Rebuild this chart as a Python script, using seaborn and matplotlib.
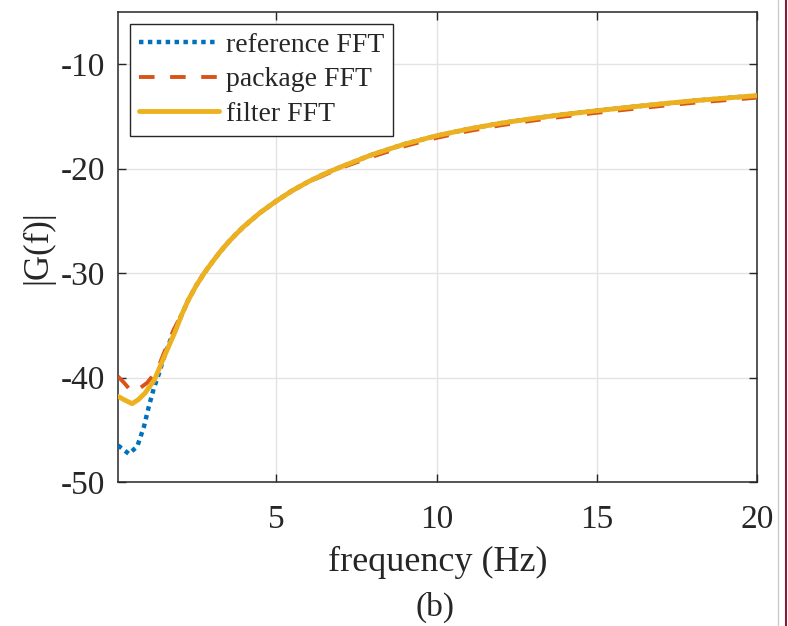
import matplotlib
matplotlib.use("Agg")
import matplotlib.pyplot as plt
from matplotlib.lines import Line2D
import numpy as np
import pandas as pd
import seaborn as sns

# ---- data ----
series_names = ["reference FFT", "package FFT", "filter FFT"]

# shared high-frequency part (all three curves overlap here)
f_common = [2.06, 2.25, 2.5, 2.75, 3.0, 3.25, 3.5, 3.75, 4.0, 4.5, 5.0, 5.5, 6.0, 6.5, 7.0,
            8.0, 9.0, 10.0, 11.0, 12.0, 13.0, 14.0, 15.0, 16.0, 17.0, 18.0, 19.0, 20.0]
g_filter_hi = [-33.9, -32.6, -31.2, -30.0, -28.95, -27.95, -27.05, -26.25, -25.5, -24.2,
               -23.1, -22.1, -21.25, -20.5, -19.85, -18.65, -17.65, -16.85, -16.2, -15.65,
               -15.2, -14.8, -14.45, -14.12, -13.8, -13.5, -13.25, -13.0]
g_package_hi = [-33.9, -32.6, -31.2, -30.0, -28.95, -27.95, -27.05, -26.25, -25.5, -24.2,
                -23.1, -22.1, -21.3, -20.6, -19.95, -18.85, -17.85, -17.05, -16.4, -15.85,
                -15.4, -15.0, -14.65, -14.32, -14.0, -13.7, -13.45, -13.2]

# low-frequency parts
f_ref_lo = [0.06, 0.4, 0.66, 0.87, 1.02, 1.18, 1.34, 1.53, 1.8]
g_ref_lo = [-46.5, -47.3, -46.6, -44.7, -42.8, -41.0, -39.6, -37.7, -35.6]
f_pkg_lo = [0.06, 0.25, 0.5, 0.75, 0.97, 1.28, 1.5, 1.8]
g_pkg_lo = [-39.9, -40.5, -41.4, -41.0, -40.5, -39.3, -37.6, -35.4]
f_flt_lo = [0.06, 0.3, 0.5, 0.7, 0.9, 1.2, 1.5, 1.83]
g_flt_lo = [-41.8, -42.2, -42.5, -42.1, -41.5, -40.2, -38.0, -35.7]

x_ticks = [5, 10, 15, 20]
y_ticks = [-50, -40, -30, -20, -10]

# ---- build long table ----
rows = []
for f, g in zip(f_ref_lo + f_common, g_ref_lo + g_filter_hi):
    rows.append((series_names[0], f, g))
for f, g in zip(f_pkg_lo + f_common, g_pkg_lo + g_package_hi):
    rows.append((series_names[1], f, g))
for f, g in zip(f_flt_lo + f_common, g_flt_lo + g_filter_hi):
    rows.append((series_names[2], f, g))
df = pd.DataFrame(rows, columns=["series", "freq", "G"])

sns.set_theme(style="whitegrid")
plt.rcParams["font.family"] = ["Liberation Serif", "DejaVu Serif"]

fig = plt.figure(figsize=(7.88, 6.26), dpi=100)
ax = fig.add_axes([118 / 788, 1 - 482 / 626, (757 - 118) / 788, (482 - 12) / 626])

colors = {"reference FFT": "#0072BD", "package FFT": "#D95319", "filter FFT": "#EDB120"}
styles = {"reference FFT": dict(lw=3.2, dashes=(1.0, 1.0)),
          "package FFT": dict(lw=2.8, dashes=(4.0, 4.0)),
          "filter FFT": dict(lw=3.5, dashes=None)}

handles = []
for name in series_names:
    sub = df[df["series"] == name]
    sns.lineplot(data=sub, x="freq", y="G", ax=ax, color=colors[name],
                 linewidth=styles[name]["lw"], sort=False, estimator=None,
                 legend=False, zorder=3 + series_names.index(name))
    line = ax.lines[-1]
    line.set_solid_joinstyle("round")
    if styles[name]["dashes"] is not None:
        line.set_dashes(styles[name]["dashes"])
        line.set_dash_capstyle("butt")
    h = Line2D([], [], color=colors[name], lw=styles[name]["lw"])
    if styles[name]["dashes"] is not None:
        h.set_dashes(styles[name]["dashes"])
        h.set_dash_capstyle("butt")
    handles.append(h)

ax.set_xlim(0.06, 20)
ax.set_ylim(-50, -5)
ax.set_xticks(x_ticks)
ax.set_yticks(y_ticks)
ax.set_xticklabels([str(t) for t in x_ticks])
ax.set_yticklabels([str(t) for t in y_ticks])

ax.set_facecolor("white")
ax.grid(True, color="#E3E3E3", linewidth=1.0)
for s in ax.spines.values():
    s.set_visible(True)
    s.set_color("#262626")
    s.set_linewidth(1.1)
ax.tick_params(axis="both", direction="in", length=6, width=1.0, color="#262626",
               labelsize=24, labelcolor="#262626", top=True, right=True,
               bottom=True, left=True)
ax.tick_params(axis="x", pad=16)
ax.tick_params(axis="y", pad=9)

ax.set_xlabel("frequency (Hz)", fontsize=26, color="#262626", labelpad=8)
ax.set_ylabel("|G(f)|", fontsize=25, color="#262626", labelpad=5)

leg = ax.legend(handles, series_names, loc="upper left", fontsize=20,
                frameon=True, fancybox=False, edgecolor="#262626",
                framealpha=1, handlelength=2.9, handletextpad=0.25,
                labelspacing=0.32, borderpad=0.32, borderaxespad=0.42)
leg.get_frame().set_linewidth(1.0)

fig.text(435 / 788, 1 - 607 / 626, "(b)", fontsize=24, ha="center", va="center",
         color="#262626")

# screenshot edge lines on the right
fig.add_artist(Line2D([778 / 788, 778 / 788], [0, 1], color="#CCCCCC", lw=1.0,
                      transform=fig.transFigure))
fig.add_artist(Line2D([786 / 788, 786 / 788], [0, 1], color="#8B1A3A", lw=1.5,
                      transform=fig.transFigure))

fig.savefig("out.png", dpi=100)
